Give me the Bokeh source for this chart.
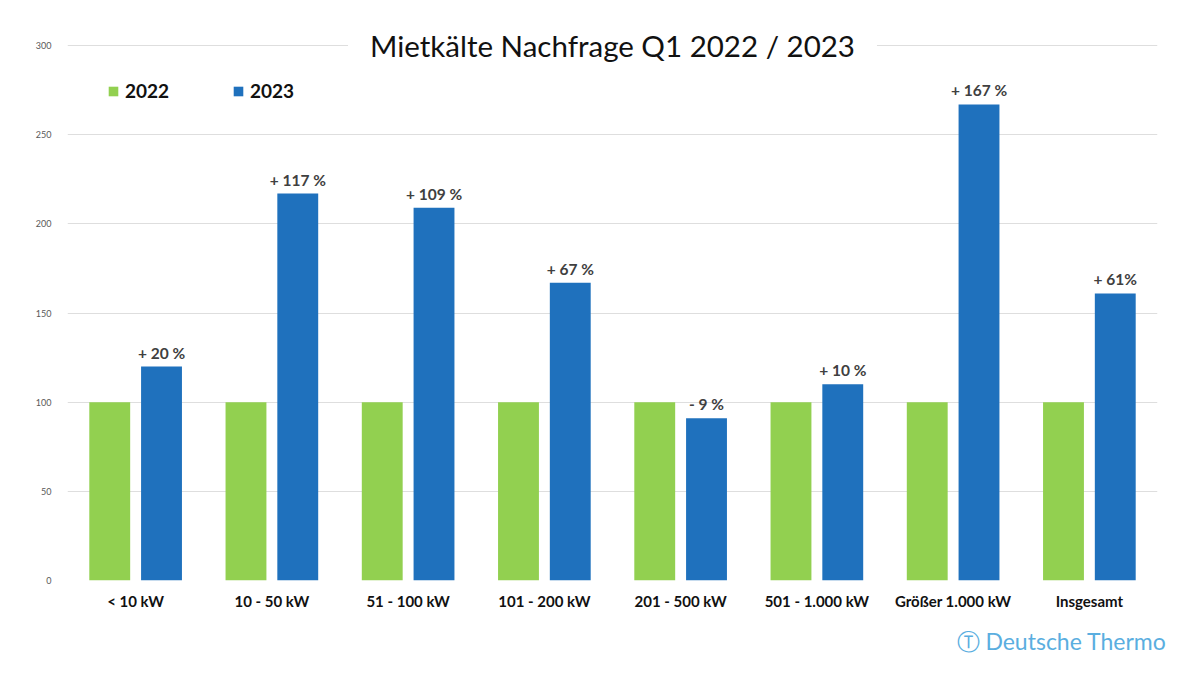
from bokeh.plotting import figure
from bokeh.models import ColumnDataSource, Label, Legend, LegendItem, FixedTicker, Title
from bokeh.transform import dodge
from bokeh.core.properties import value
from bokeh.embed import file_html
from bokeh.resources import INLINE

# data (index, Q1 2022 = 100)
categories = ["< 10 kW", "10 - 50 kW", "51 - 100 kW", "101 - 200 kW",
              "201 - 500 kW", "501 - 1.000 kW", "Größer 1.000 kW", "Insgesamt"]
values_2022 = [100, 100, 100, 100, 100, 100, 100, 100]
values_2023 = [120, 217, 209, 167, 91, 110, 267, 161]
change_labels = ["+ 20 %", "+ 117 %", "+ 109 %", "+ 67 %",
                 "- 9 %", "+ 10 %", "+ 167 %", "+ 61%"]
y_ticks = [0, 50, 100, 150, 200, 250, 300]

green = "#92d050"
blue = "#1f71bd"
font = "Lato"

source = ColumnDataSource(data=dict(cat=categories, y2022=values_2022,
                                    y2023=values_2023, lbl=change_labels))

# y range runs a little past 300 so the title can sit on the top gridline
p = figure(x_range=categories, y_range=(0, 324.7), width=1192, height=667,
           output_backend="svg", toolbar_location=None,
           min_border_left=67, min_border_right=35, min_border_top=1, min_border_bottom=87,
           background_fill_color="white", border_fill_color="white", outline_line_color=None)
p.x_range.range_padding = 0

r1 = p.vbar(x=dodge("cat", -0.19, range=p.x_range), top="y2022", width=0.30,
            source=source, color=green, line_color=None)
r2 = p.vbar(x=dodge("cat", 0.19, range=p.x_range), top="y2023", width=0.30,
            source=source, color=blue, line_color=None)

# percentage change above the 2023 bars
p.text(x=dodge("cat", 0.19, range=p.x_range), y="y2023", text="lbl", source=source,
       text_align="center", text_baseline="bottom", y_offset=-5,
       text_font=value(font), text_font_style="bold", text_font_size="15.5px",
       text_color="#404040")

# axes
p.yaxis.ticker = FixedTicker(ticks=y_ticks)
p.yaxis.axis_line_color = None
p.yaxis.major_tick_line_color = None
p.yaxis.minor_tick_line_color = None
p.yaxis.major_label_text_font = font
p.yaxis.major_label_text_font_size = "9px"
p.yaxis.major_label_text_color = "#595959"
p.yaxis.major_label_standoff = 10

p.xaxis.axis_line_color = None
p.xaxis.major_tick_line_color = None
p.xaxis.minor_tick_line_color = None
p.xaxis.major_label_text_font = font
p.xaxis.major_label_text_font_style = "bold"
p.xaxis.major_label_text_font_size = "15px"
p.xaxis.major_label_text_color = "#111111"
p.xaxis.major_label_standoff = 5

p.xgrid.grid_line_color = None
p.ygrid.grid_line_color = "#dedede"
p.ygrid.grid_line_width = 1

# title sits on the 300 gridline with a white box
title = Label(x=4, y=300, text="Mietkälte Nachfrage Q1 2022 / 2023",
              text_align="center", text_baseline="middle",
              text_font=font, text_font_size="29.5px", text_color="#111111",
              background_fill_color="white", padding=22)
p.add_layout(title)

# legend
legend = Legend(items=[LegendItem(label="2022", renderers=[r1]),
                       LegendItem(label="2023", renderers=[r2])],
                orientation="horizontal", location=(40, 478),
                glyph_width=12, glyph_height=12, label_standoff=6,
                label_width=100, spacing=7, padding=0, margin=0,
                label_text_font=font, label_text_font_style="bold",
                label_text_font_size="19px", label_text_color="#111111",
                background_fill_alpha=0, border_line_color=None)
p.add_layout(legend)

# company name bottom right
logo = Title(text="Ⓣ Deutsche Thermo", align="left", offset=889, standoff=25,
             text_font=font, text_font_size="23px", text_font_style="normal",
             text_color="#5aaee0")
p.add_layout(logo, "below")

open("out.html", "w").write(file_html(p, INLINE))
